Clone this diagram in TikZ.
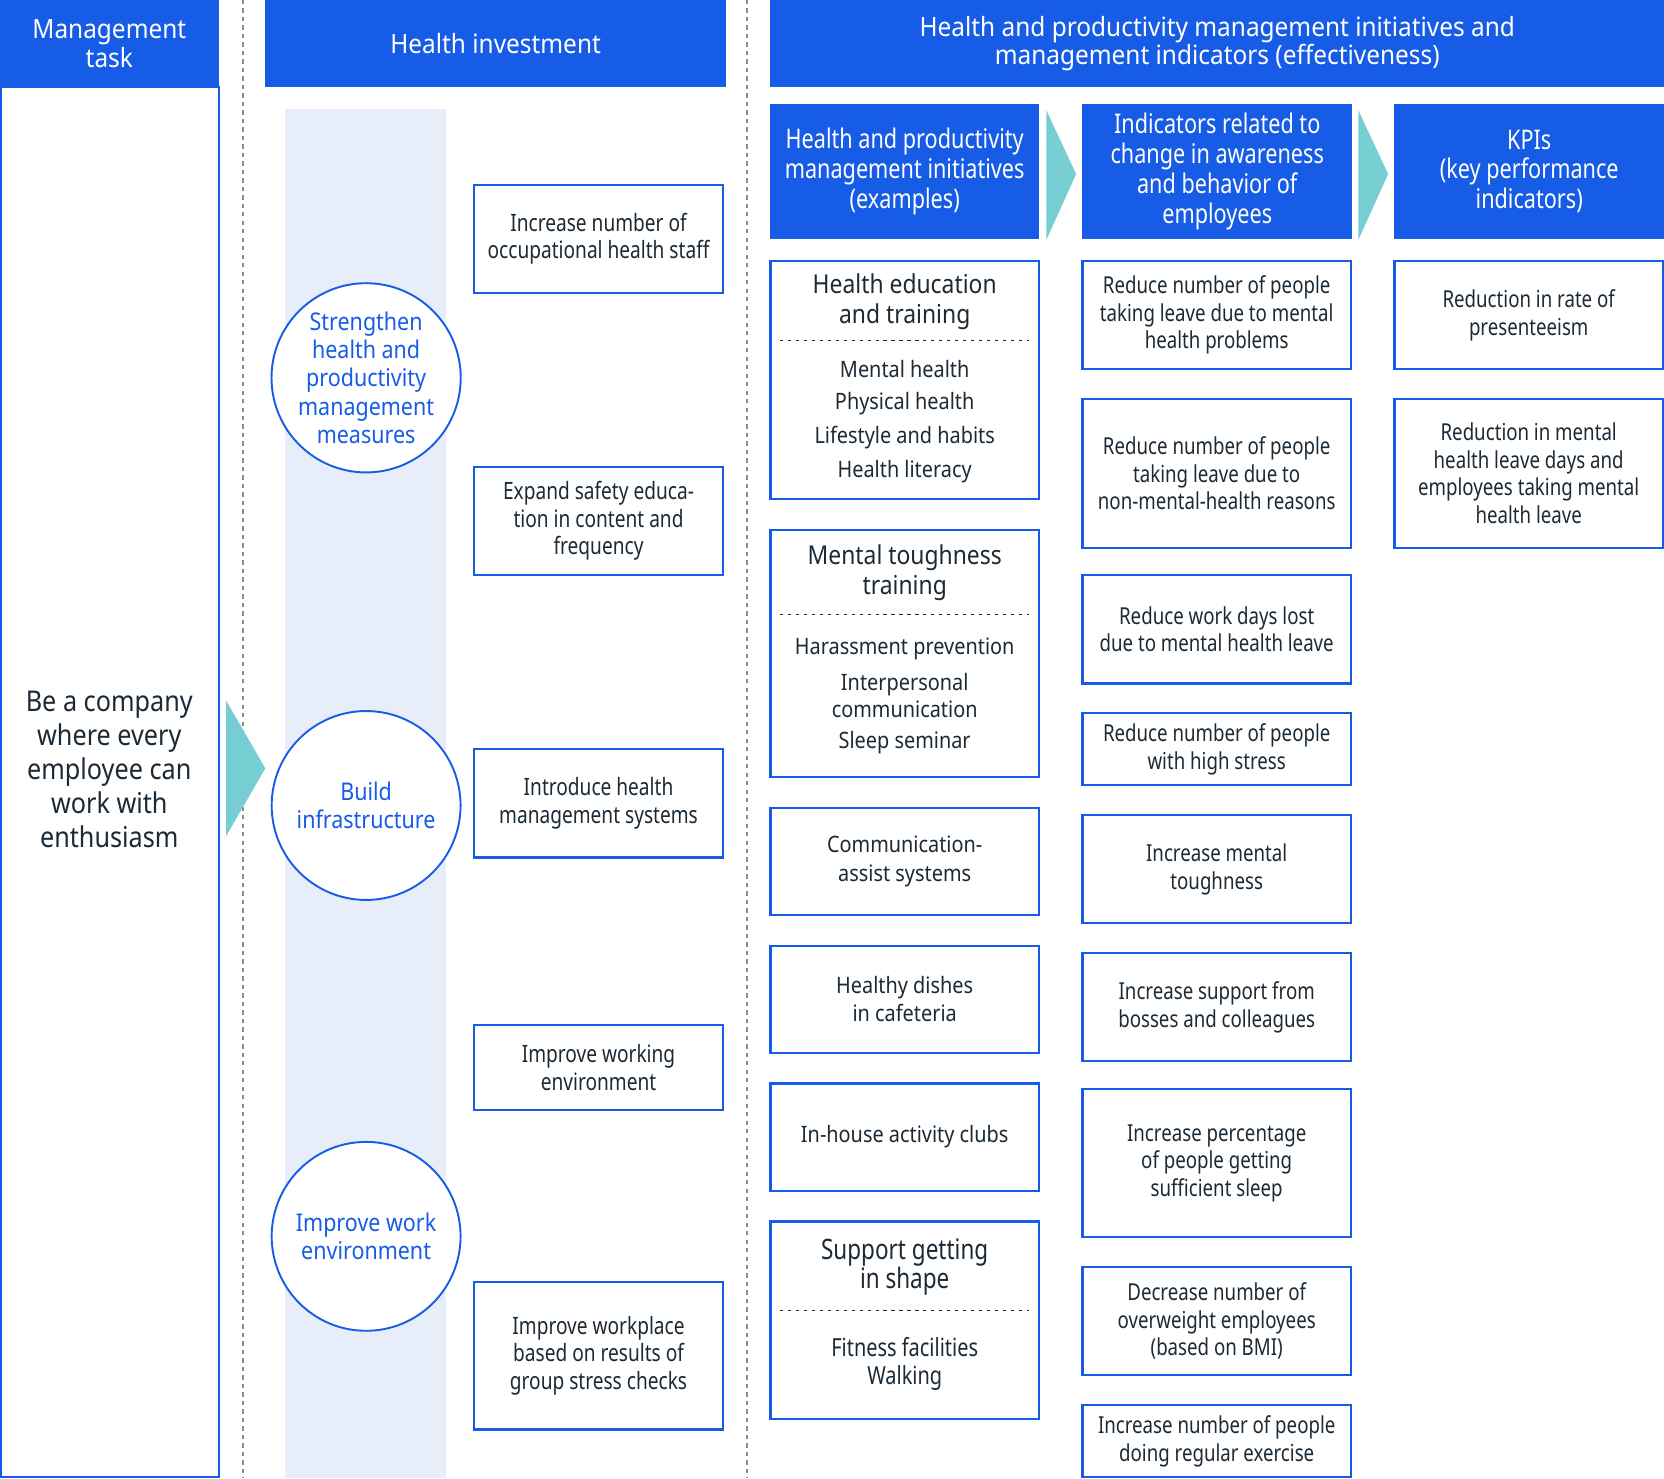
\documentclass[tikz,border=0pt]{standalone}
\usepackage{fontspec}
\setmainfont{Noto Sans}[FakeStretch=0.88]
\newfontfamily\cfont{Noto Sans}[FakeStretch=0.80]
\newfontfamily\hfont{Noto Sans}[FakeStretch=0.92]
\definecolor{hblue}{HTML}{175CE6}
\definecolor{strip}{HTML}{E7EEFA}
\definecolor{teal}{HTML}{76CDD2}
\definecolor{tdark}{HTML}{1C2A36}
\definecolor{dgray}{HTML}{8A8A8A}
\tikzset{
  hdr/.style={fill=hblue, draw=none, text=white, align=center, inner sep=0pt, font=\hfont\fontsize{25}{27}\selectfont},
  subhdr/.style={hdr, font=\cfont\fontsize{25.5}{28}\selectfont},
  ibox/.style={draw=hblue, line width=2pt, fill=white, align=center, inner sep=0pt, text=tdark, font=\cfont\fontsize{22}{26}\selectfont},
  hbox/.style={ibox, font=\cfont\fontsize{22.5}{26}\selectfont},
  rtxt/.style={align=center, inner sep=0pt, text=tdark, font=\fontsize{21.3}{26}\selectfont},
  ttl/.style={align=center, inner sep=0pt, text=tdark, font=\fontsize{24.5}{28}\selectfont},
  ctxt/.style={align=center, inner sep=0pt, text=tdark, font=\cfont\fontsize{23.5}{26}\selectfont},
  ctl/.style={align=center, inner sep=0pt, text=tdark, font=\cfont\fontsize{26.5}{28}\selectfont},
  circ/.style={circle, draw=hblue, line width=1.8pt, fill=white, minimum size=178pt, inner sep=0pt, align=center, text=hblue, font=\fontsize{23}{26.5}\selectfont},
  sep/.style={tdark, line width=1.5pt, dash pattern=on 3pt off 4.5pt},
  vsep/.style={dgray, line width=1.5pt, dash pattern=on 4pt off 4pt},
  tri/.style={fill=teal, draw=none}
}
\newcommand\bx[7][]{\node[ibox,#1, minimum width={(#5-#3)*1pt}, minimum height={(#6-#4)*1pt}] (#2) at ({(#3+#5)/2},{(#4+#6)/2}) {#7};}
\begin{document}
\begin{tikzpicture}[x=1pt,y=-1pt]
\useasboundingbox (0,0) rectangle (1568,1393);
\fill[white] (0,0) rectangle (1568,1393);
% dashed column separators
\coordinate (s1t) at (229,0); \coordinate (s1b) at (229,1393);
\coordinate (s2t) at (704,0); \coordinate (s2b) at (704,1393);
\draw[vsep] (s1t) -- (s1b);
\draw[vsep] (s2t) -- (s2b);
% management column
\node[hdr, minimum width=206pt, minimum height=82pt] (mh) at (103,41) {Management\\task};
\node[draw=hblue, line width=2pt, minimum width=205pt, minimum height=1310pt, inner sep=0pt] (mb) at (103.5,737) {};
\node[align=center, inner sep=0pt, text=tdark, font=\fontsize{27}{32}\selectfont] (mt) at (103,725) {Be a company\\where every\\employee can\\work with\\enthusiasm};
\fill[tri] (213,660) -- (250,724) -- (213,788) -- cycle;
% health investment
\node[hdr, minimum width=434pt, minimum height=82pt] (hh) at (467,41) {Health investment};
\fill[strip] (269,103) rectangle (420,1393);
\node[circ] (c1) at (345,356) {Strengthen\\health and\\productivity\\management\\measures};
\node[circ] (c2) at (345,759) {Build\\infrastructure};
\node[circ] (c3) at (345,1165) {Improve work\\environment};
\bx[hbox]{h1}{447}{174}{681}{276}{Increase number of\\occupational health staff}
\bx[hbox]{h2}{447}{440}{681}{542}{Expand safety educa-\\tion in content and\\frequency}
\bx[hbox]{h3}{447}{706}{681}{808}{Introduce health\\management systems}
\bx[hbox]{h4}{447}{966}{681}{1046}{Improve working\\environment}
\bx[hbox]{h5}{447}{1208}{681}{1347}{Improve workplace\\based on results of\\group stress checks}
% right part header
\node[hdr, minimum width=842pt, minimum height=82pt] (bh) at (1147,41) {Health and productivity management initiatives and\\management indicators (effectiveness)};
\node[subhdr, minimum width=253pt, minimum height=127pt] (sh1) at (852.5,161.5) {Health and productivity\\management initiatives\\(examples)};
\node[subhdr, minimum width=254pt, minimum height=127pt] (sh2) at (1147,161.5) {Indicators related to\\change in awareness\\and behavior of\\employees};
\node[subhdr, minimum width=254pt, minimum height=127pt] (sh3) at (1441,161.5) {KPIs\\(key performance\\indicators)};
\fill[tri] (986,104) -- (1014,164) -- (986,226) -- cycle;
\fill[tri] (1280,104) -- (1308,164) -- (1280,226) -- cycle;
% column 1
\bx{a1}{726}{246}{979}{470}{}
\node[ttl] (a1t) at (852.5,284) {Health education\\and training};
\draw[sep] (735,321) -- (970,321);
\node[rtxt] (a1i1) at (852.5,348) {Mental health};
\node[rtxt] (a1i2) at (852.5,380) {Physical health};
\node[rtxt] (a1i3) at (852.5,412) {Lifestyle and habits};
\node[rtxt] (a1i4) at (852.5,444) {Health literacy};
\bx{a2}{726}{499}{979}{732}{}
\node[ttl] (a2t) at (852.5,540) {Mental toughness\\training};
\draw[sep] (735,579) -- (970,579);
\node[rtxt] (a2i1) at (852.5,611) {Harassment prevention};
\node[rtxt] (a2i2) at (852.5,655.5) {Interpersonal\\communication};
\node[rtxt] (a2i3) at (852.5,700) {Sleep seminar};
\bx[font=\fontsize{21.3}{27}\selectfont]{a3}{726}{761}{979}{862}{Communication-\\assist systems}
\bx[font=\fontsize{21.3}{27}\selectfont]{a4}{726}{891}{979}{992}{Healthy dishes\\in cafeteria}
\bx[font=\fontsize{21.3}{27}\selectfont]{a5}{726}{1021}{979}{1122}{In-house activity clubs}
\bx{a6}{726}{1151}{979}{1337}{}
\node[ctl] (a6t) at (852.5,1194) {Support getting\\in shape};
\draw[sep] (735,1235) -- (970,1235);
\node[ctxt] (a6i) at (852.5,1285) {Fitness facilities\\Walking};
% column 2
\bx{b1}{1020}{246}{1273}{348}{Reduce number of people\\taking leave due to mental\\health problems}
\bx{b2}{1020}{376}{1273}{516}{Reduce number of people\\taking leave due to\\non-mental-health reasons}
\bx{b3}{1020}{542}{1273}{644}{Reduce work days lost\\due to mental health leave}
\bx{b4}{1020}{672}{1273}{740}{Reduce number of people\\with high stress}
\bx{b5}{1020}{768}{1273}{870}{Increase mental\\toughness}
\bx{b6}{1020}{898}{1273}{1000}{Increase support from\\bosses and colleagues}
\bx{b7}{1020}{1026}{1273}{1166}{Increase percentage\\of people getting\\sufficient sleep}
\bx{b8}{1020}{1194}{1273}{1296}{Decrease number of\\overweight employees\\(based on BMI)}
\bx{b9}{1020}{1324}{1273}{1392}{Increase number of people\\doing regular exercise}
% column 3
\bx{k1}{1314}{246}{1567}{348}{Reduction in rate of\\presenteeism}
\bx{k2}{1314}{376}{1567}{516}{Reduction in mental\\health leave days and\\employees taking mental\\health leave}
\end{tikzpicture}
\end{document}
